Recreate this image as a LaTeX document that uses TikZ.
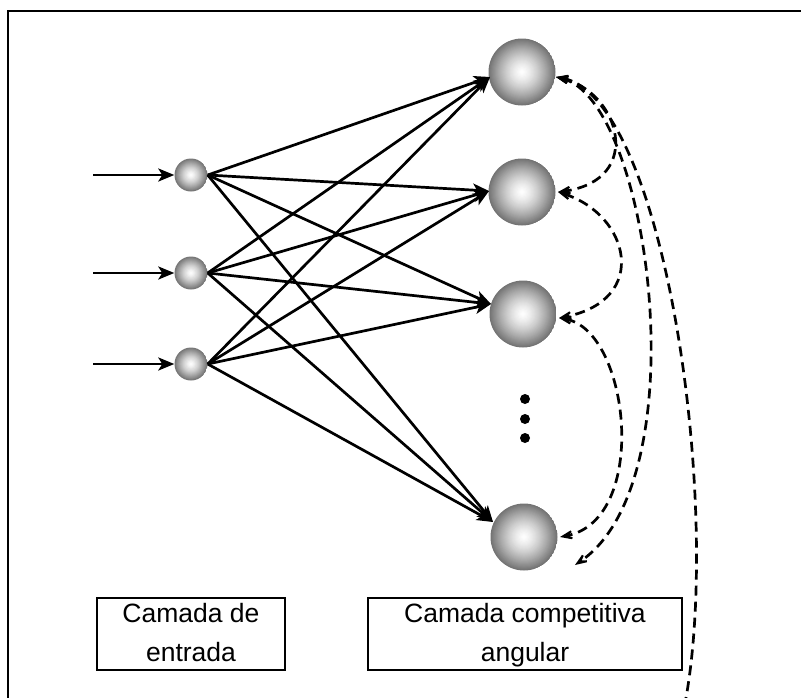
\documentclass[tikz,border=0pt]{standalone}
\usepackage{fontspec}
\setmainfont{Liberation Sans}
\usetikzlibrary{arrows.meta}
\begin{document}
\begin{tikzpicture}[x=1pt,y=-1pt,
  sph/.style={circle, minimum size=#1, inner sep=0pt,
    path picture={
      \foreach \k in {0,...,31}{
        \pgfmathsetmacro\rr{1-\k/32}
        \pgfmathsetmacro\cc{55*\rr^1.4}
        \fill[black!\cc] (path picture bounding box.center) circle ({\rr*#1/2});
      }
    }},
  inp/.style={sph=33pt},
  outn/.style={sph=67pt},
  conn/.style={line width=2.7pt, -{Stealth[length=16pt,width=13pt,inset=4pt]}},
  dconn/.style={line width=2.7pt, dash pattern=on 10pt off 6pt, {Stealth[length=22pt,width=17pt,inset=14pt]}-{Stealth[length=22pt,width=17pt,inset=14pt]}},
  dconnone/.style={line width=2.7pt, dash pattern=on 10pt off 6pt, {Stealth[length=22pt,width=17pt,inset=14pt]}-},
  lblbox/.style={draw, line width=1.8pt, inner sep=0pt},
  lbltext/.style={font=\fontsize{26.5}{39}\selectfont, align=center, inner sep=0pt},
  dot/.style={circle, fill=black, minimum size=10pt, inner sep=0pt}]
\useasboundingbox (0,0) rectangle (801,697);
\clip (0,0) rectangle (801,697);
% frame
\draw[line width=2pt] (8,900) -- (8,11) -- (900,11);

% input nodes
\node[inp] (i1) at (191,175) {};
\node[inp] (i2) at (191,273) {};
\node[inp] (i3) at (191,364) {};
\coordinate (s1) at (93,175);
\coordinate (s2) at (93,273);
\coordinate (s3) at (93,364);
\draw[conn] (s1) -- (i1.west);
\draw[conn] (s2) -- (i2.west);
\draw[conn] (s3) -- (i3.west);

% output nodes
\node[outn] (o1) at (522,72) {};
\node[outn] (o2) at (522,192) {};
\node[outn] (o3) at (523,314) {};
\node[outn] (o5) at (524,537) {};
\node[dot] (p1) at (525,399) {};
\node[dot] (p2) at (525,419) {};
\node[dot] (p3) at (525,438) {};

\coordinate (t1) at (490,77);
\coordinate (t2) at (489,191);
\coordinate (t3) at (491,304);
\coordinate (t5) at (493,522);

\foreach \i in {i1,i2,i3}{
  \foreach \t in {t1,t2,t3,t5}{
    \draw[conn] (\i.east) -- (\t);
  }
}

% dashed lateral connections
\coordinate (d1) at (556,77);
\coordinate (d2) at (558,192);
\coordinate (d3) at (559,318);
\coordinate (d5) at (560,537);
\coordinate (dE) at (575,565);
\coordinate (dF) at (660,780);
\draw[dconn] (d1) .. controls (620,92) and (645,180) .. (d2);
\draw[dconn] (d2) .. controls (630,215) and (650,300) .. (d3);
\draw[dconn] (d3) .. controls (630,330) and (650,520) .. (d5);
\draw[dconn] (d1) .. controls (650,100) and (700,480) .. (dE);
\draw[dconnone] (d1) .. controls (680,100) and (740,640) .. (dF);

% label boxes
\node[lblbox, minimum width=188pt, minimum height=72pt] (b1) at (191,634) {};
\node[lblbox, minimum width=314pt, minimum height=72pt] (b2) at (525,634) {};
\node[lbltext, anchor=base] (l1) at (191,661) {Camada de\\entrada};
\node[lbltext, anchor=base] (l2) at (525,661) {Camada competitiva\\angular};
\end{tikzpicture}
\end{document}
